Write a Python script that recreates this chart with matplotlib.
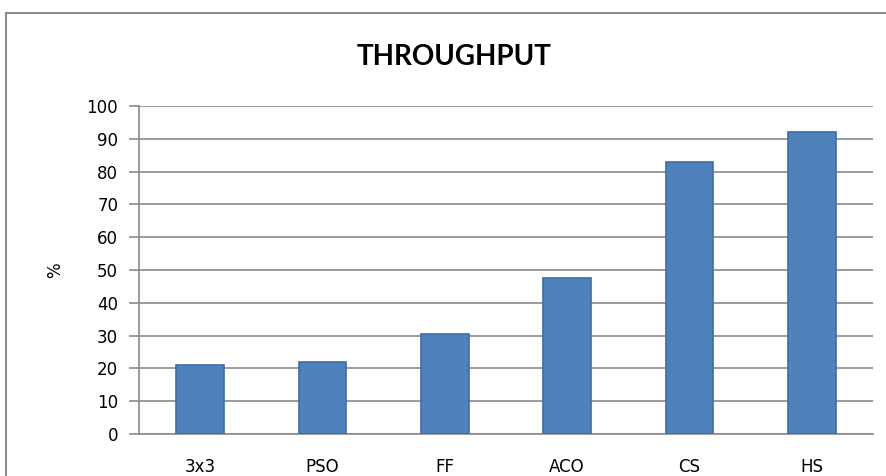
import matplotlib.pyplot as plt
from matplotlib.patches import Rectangle

# throughput per method
methods = ["3x3", "PSO", "FF", "ACO", "CS", "HS"]
throughput = [21, 22, 30.5, 47.5, 83, 92]

fig = plt.figure(figsize=(8.86, 4.76), dpi=100)
ax = fig.add_axes([0.1569, 0.0882, 0.8284, 0.6891])

# chart frame (gray border, runs off the right/bottom edge)
fig.patches.append(Rectangle((6 / 886, -0.1), 1.0, 1 - 13 / 476 + 0.1,
                             transform=fig.transFigure, fill=False,
                             edgecolor="#8c8c8c", linewidth=1.5))

x = range(len(methods))
ax.bar(x, throughput, width=0.39, color="#4f81bd", edgecolor="#3d6da8",
       linewidth=1.2, zorder=3)

ax.set_xlim(-0.5, len(methods) - 0.5)
ax.set_ylim(0, 100)
ax.set_yticks(range(0, 101, 10))
ax.set_xticks(list(x))
ax.set_xticklabels(methods)

ax.grid(axis="y", color="#8a8a8a", linewidth=1.2, zorder=0)
for side in ["top", "right"]:
    ax.spines[side].set_visible(False)
ax.spines["left"].set_color("#8a8a8a")
ax.spines["bottom"].set_color("#8a8a8a")
ax.spines["left"].set_linewidth(1.2)
ax.spines["bottom"].set_linewidth(1.2)
ax.tick_params(axis="y", length=7, width=1.2, color="#8a8a8a", labelsize=12, pad=8)
ax.tick_params(axis="x", length=0, labelsize=12, pad=17)

ax.set_ylabel("%", fontsize=12, labelpad=16)
fig.text(454 / 886, 1 - 57 / 476, "THROUGHPUT", ha="center", va="center",
         fontsize=20, fontweight="bold", family="Lato")

fig.savefig("out.png", dpi=100)
